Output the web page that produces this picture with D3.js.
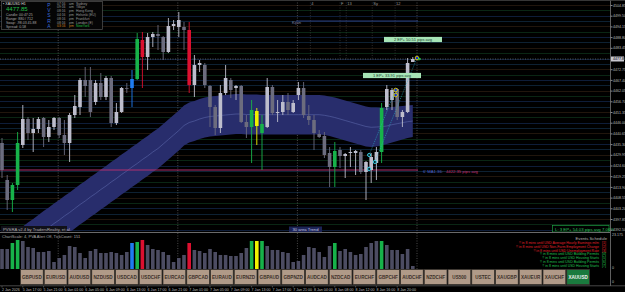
<!DOCTYPE html>
<html>
<head>
<meta charset="utf-8">
<script src="https://cdn.jsdelivr.net/npm/d3@7"></script>
<style>
  body { margin: 0; background: #000; overflow: hidden; }
  svg { display: block; font-family: "Liberation Sans", Arial, sans-serif; }
</style>
</head>
<body>
<svg id="chart" width="625" height="292"></svg>
<script>
// ---- data (XAUUSD H1) ----
var open  = [4435.85,4417.35,4407.35,4414.85,4434.85,4447.85,4440.85,4442.85,4448.35,4438.85,4443.85,4448.35,4439.85,4435.85,4449.85,4453.85,4467.35,4467.35,4456.35,4465.85,
             4458.85,4468.35,4445.85,4451.35,4463.35,4463.35,4467.85,4487.35,4478.85,4488.85,4490.35,4488.85,4481.35,4494.35,4493.85,4493.85,4492.35,4464.85,4474.85,4474.85,
             4464.35,4453.85,4443.35,4460.85,4467.35,4463.35,4464.35,4446.35,4443.85,4451.85,4440.85,4443.85,4463.85,4450.85,4451.35,4456.35,4451.35,4459.85,4463.35,4449.35,
             4447.35,4440.35,4439.35,4430.85,4423.85,4432.35,4429.35,4430.85,4430.85,4431.35,4421.35,4422.35,4425.85,4431.35,4453.85,4457.35,4462.85,4448.85,4451.35,4476.35]
var high  = [4438.35,4419.85,4415.85,4441.35,4454.85,4448.85,4448.35,4448.85,4448.85,4447.35,4448.85,4448.85,4447.35,4450.85,4459.85,4468.35,4473.85,4473.85,4467.35,4470.85,
             4469.35,4469.35,4455.85,4463.85,4465.85,4472.35,4490.85,4491.35,4490.85,4491.35,4494.85,4489.35,4498.35,4497.35,4501.35,4496.35,4496.35,4479.85,4477.35,4475.85,
             4464.85,4454.85,4464.85,4474.85,4468.35,4464.85,4464.85,4449.85,4457.35,4453.35,4449.85,4468.35,4464.85,4457.35,4459.85,4460.85,4457.35,4466.35,4466.35,4454.85,
             4449.85,4442.35,4441.35,4433.85,4436.35,4433.85,4430.85,4433.85,4432.35,4432.35,4426.85,4430.85,4433.85,4455.85,4464.85,4463.35,4463.35,4452.35,4478.35,4478.85]
var low   = [4418.35,4402.35,4401.35,4412.35,4433.35,4437.35,4431.35,4440.85,4433.85,4436.35,4442.35,4438.35,4429.85,4426.35,4448.35,4449.85,4458.85,4448.85,4454.85,4457.35,
             4457.35,4443.85,4444.85,4450.85,4460.85,4453.85,4467.35,4463.35,4472.35,4483.85,4482.35,4477.35,4480.85,4492.35,4488.85,4482.35,4460.85,4458.85,4471.35,4463.35,
             4443.85,4439.85,4440.85,4459.85,4458.35,4457.35,4445.85,4438.35,4425.85,4434.85,4422.35,4443.35,4449.85,4446.35,4449.85,4449.85,4450.85,4457.35,4448.35,4444.85,
             4432.35,4438.35,4428.35,4413.85,4413.85,4423.35,4418.35,4423.85,4419.85,4420.35,4407.35,4415.85,4417.35,4425.85,4452.35,4452.35,4447.35,4443.85,4450.85,4476.35]
var close = [4422.35,4407.35,4414.85,4435.85,4447.85,4440.85,4442.85,4447.85,4438.85,4443.85,4448.35,4439.85,4435.85,4449.85,4454.35,4467.35,4464.35,4451.35,4465.85,4458.85,
             4468.35,4445.85,4451.35,4463.35,4463.05,4467.85,4487.85,4478.85,4488.85,4490.35,4489.35,4481.35,4494.35,4495.35,4497.35,4492.35,4464.85,4474.85,4475.85,4464.85,
             4453.85,4443.35,4460.85,4468.35,4462.35,4464.35,4446.35,4443.85,4452.35,4444.35,4445.35,4463.85,4450.85,4451.35,4456.35,4452.35,4455.85,4463.35,4449.85,4447.35,
             4440.85,4438.85,4429.85,4423.85,4431.85,4429.35,4430.35,4431.35,4431.85,4421.35,4426.35,4428.85,4431.35,4453.35,4462.85,4462.35,4448.85,4451.35,4475.85,4477.85]
// PVSRA class of each bar: n normal, g green climax, r red climax, b blue, y yellow
var pvsra = ["n","n","g","g","n","n","n","n","n","n","n","n","n","n","n","n","n","n","n","n",
             "n","n","n","n","n","b","g","r","n","n","n","n","n","n","n","n","r","n","n","n",
             "n","n","n","n","n","n","n","n","g","y","g","n","n","n","n","n","n","n","n","n",
             "n","n","n","n","g","n","n","n","n","n","n","n","n","g","n","n","n","n","n","n"]
var tickVolume = [12880,12880,16740,18680,18030,14170,13520,10950,10950,11590,4510,7080,9020,14810,14170,10300,7080,11590,12880,10300,
                  10300,10950,10300,9020,10950,16740,17390,18680,15460,12880,12240,10950,9020,4510,7080,9020,16740,12240,11590,10300,
                  12880,10950,9020,9020,8370,8370,10300,13520,18030,18030,18030,14810,12240,12240,10950,10300,4510,5150,9020,14170,
                  13520,10950,7730,14810,16740,11590,12880,10950,9020,9660,14170,16740,18030,18030,15460,12240,12240,9660,12880,1930]
// moving-average channel
var bandUpper = [4386.85,4388.6,4390.35,4392.35,4394.1,4396.1,4397.85,4399.85,4401.85,4403.6,4405.6,4407.35,4409.35,4411.1,4413.1,4415.1,4416.85,4418.85,4420.6,4422.6,
                 4424.35,4426.35,4428.1,4430.1,4431.85,4433.85,4435.6,4437.6,4439.35,4441.35,4443.1,4445.35,4447.6,4449.85,4452.1,4454.6,4456.1,4456.85,4457.85,4458.6,
                 4459.1,4459.35,4459.6,4459.85,4460.1,4460.35,4460.35,4460.1,4460.1,4460.1,4459.85,4459.85,4459.85,4459.85,4459.85,4459.85,4459.85,4459.85,4459.85,4459.85,
                 4459.85,4459.85,4459.6,4459.1,4458.6,4457.85,4457.1,4456.35,4455.6,4454.85,4454.1,4453.6,4453.6,4453.35,4453.35,4453.85,4454.1,4454.35,4454.6,4454.85]
var bandMid   = [4376.85,4378.6,4380.35,4382.35,4384.1,4386.1,4387.85,4389.85,4391.85,4393.6,4395.6,4397.35,4399.35,4401.1,4403.1,4405.1,4406.85,4408.85,4410.6,4412.6,
                 4414.35,4416.35,4418.1,4420.1,4421.85,4423.85,4425.6,4427.6,4429.35,4431.35,4433.1,4435.35,4437.6,4439.85,4442.1,4444.6,4446.1,4446.85,4447.85,4448.6,
                 4449.1,4449.35,4449.6,4449.85,4450.1,4450.35,4450.35,4450.1,4450.1,4450.1,4450.0,4450.0,4450.0,4450.0,4450.0,4450.0,4450.0,4450.0,4450.0,4450.0,
                 4450.0,4450.0,4449.7,4449.2,4448.6,4447.85,4447.1,4446.35,4445.6,4444.85,4444.1,4443.7,4443.85,4444.0,4444.35,4445.0,4445.5,4446.0,4446.5,4446.85]
var bandLower = [4366.85,4368.6,4370.35,4372.35,4374.1,4376.1,4377.85,4379.85,4381.85,4383.6,4385.6,4387.35,4389.35,4391.1,4393.1,4395.1,4396.85,4398.85,4400.6,4402.6,
                 4404.35,4406.35,4408.1,4410.1,4411.85,4413.85,4415.6,4417.6,4419.35,4421.35,4423.1,4425.35,4427.6,4429.85,4432.1,4434.6,4436.1,4436.85,4437.85,4438.6,
                 4439.1,4439.35,4439.6,4439.85,4440.1,4440.35,4440.35,4440.1,4440.1,4440.1,4440.1,4440.1,4440.1,4440.1,4440.1,4440.1,4440.1,4440.1,4440.1,4440.1,
                 4440.1,4440.1,4439.85,4439.35,4438.6,4437.85,4437.1,4436.35,4435.6,4434.85,4434.1,4433.85,4434.1,4434.6,4435.35,4436.1,4436.85,4437.6,4438.35,4438.85]

var priceTicks = ["4504.85","4499.50","4494.15","4488.80","4483.45","4478.10","4472.75","4467.40","4462.05","4456.70","4451.35",
                  "4446.00","4440.65","4435.30","4429.95","4424.60","4419.25","4413.90","4408.55","4403.20","4397.85","4392.50"]
var timeTicks = [0,4,8,12,16,20,24,28,32,36,40,44,48,52,56,60,64,68,72,76]
var timeLabels = ["2 Jan 2026","5 Jan 17:00","5 Jan 21:00","6 Jan 01:00","6 Jan 05:00","6 Jan 09:00","6 Jan 13:00","6 Jan 17:00","6 Jan 21:00","7 Jan 01:00",
                  "7 Jan 05:00","7 Jan 09:00","7 Jan 13:00","7 Jan 17:00","7 Jan 21:00","8 Jan 04:00","8 Jan 08:00","8 Jan 12:00","8 Jan 16:00","8 Jan 20:00"]
var daySeparators = [11, 34, 57, 80]
var sessionMarks = [[59.3,"4"],[65,"F"],[66.2,"13"],[71.2,"Sy"],[75.6,"12"]]
var symbols = ["GBPUSD","EURUSD","AUDUSD","NZDUSD","USDCAD","USDCHF","EURCAD","GBPCAD","EURAUD","EURNZD","GBPAUD","GBPNZD",
               "AUDCAD","NZDCAD","EURCHF","GBPCHF","AUDCHF","NZDCHF","US500","USTEC","XAUGBP","XAUEUR","XAUCHF","XAUUSD"]
var activeSymbol = "XAUUSD"
var bidPrice = 4477.85
var maLevel = 4422.35
var kijunLevel = 4496.85
var entries = [[70.6,4429.85],[70.6,4422.85],[71.7,4426.35]]   // cyan rings
var exits = [[75.7,4462.35],[75.7,4459.85],[79.8,4478.35]]      // yellow/blue dots
var epLabels = [[4487.6,"2 EP+ 50.51 pips avg",384,442],[4469.6,"1 EP+ 33.91 pips avg",363,421]]
var events = [["!! in 8 mins until USD Average Hourly Earnings m/m","[1]","#e0202a"],
              ["!! in 8 mins until USD Non-Farm Employment Change","[2]","#e0202a"],
              ["!! in 8 mins until USD Unemployment Rate","[3]","#e0202a"],
              ["!! in 8 mins until USD Building Permits","[4]","#22c050"],
              ["!! in 8 mins until USD Housing Starts","[5]","#22c050"],
              ["!! in 8 mins until USD Building Permits","[6]","#22c050"],
              ["!! in 8 mins until USD Housing Starts","[7]","#22c050"]]
var sessions = [["07:16","am","Sydney"],["09:16","am","Tokyo"],["08:16","pm","Hong Kong"],["04:16","pm","Helsinki (EU)"],
                ["08:16","pm","Frankfurt"],["08:16","pm","London (E)"],["03:16","pm","NewYork"]]

// ---- layout ----
var MAIN = {LEFT: 0, RIGHT: 610, TOP: 1, BOTTOM: 231}
var SUB = {TOP: 233, BOTTOM: 269}
var COLORS = {n_up: "#bdbdcc", n_dn: "#6c6c7e", g: "#17b24a", r: "#dc1030", b: "#1f7cf0", y: "#f2f200"}

var svg = d3.select("#chart")
svg.append("rect").attr("width", 625).attr("height", 292).attr("fill", "#000")

var x = d3.scaleLinear().domain([0, 79]).range([2, 412.8])
var y = d3.scaleLinear().domain([4392.85, 4507.35]).range([229, 0])
var yv = d3.scaleLinear().domain([0, 23175]).range([SUB.BOTTOM, SUB.TOP])

svg.append("clipPath").attr("id", "mainclip")
  .append("rect").attr("x", 0).attr("y", MAIN.TOP).attr("width", MAIN.RIGHT).attr("height", MAIN.BOTTOM - MAIN.TOP)

var main = svg.append("g").attr("clip-path", "url(#mainclip)")

// faint coloured level lines
var levelColors = ["#122448", "#0c3019", "#2a1c10", "#102a40"]
var levels = d3.range(4392.5, 4507, 2.675)
main.selectAll(".lvl").data(levels).enter().append("line")
  .attr("x1", 0).attr("x2", MAIN.RIGHT)
  .attr("y1", d => Math.round(y(d)) + 0.5).attr("y2", d => Math.round(y(d)) + 0.5)
  .attr("stroke", (d, i) => levelColors[i % 4]).attr("stroke-width", 0.8)

// day separators
main.selectAll(".sep").data(daySeparators).enter().append("line")
  .attr("x1", d => x(d) - 1).attr("x2", d => x(d) - 1)
  .attr("y1", 0).attr("y2", MAIN.BOTTOM)
  .attr("stroke", "#7a7a7a").attr("stroke-width", 0.6).attr("stroke-dasharray", "1,1.5")

// session markers at the top
main.selectAll(".sess").data(sessionMarks).enter().append("line")
  .attr("x1", d => x(d[0])).attr("x2", d => x(d[0]))
  .attr("y1", 0).attr("y2", 60)
  .attr("stroke", "#555").attr("stroke-width", 0.5).attr("stroke-dasharray", "1,1.5")
main.selectAll(".sesst").data(sessionMarks).enter().append("text")
  .attr("x", d => x(d[0]) + 1).attr("y", 5)
  .attr("fill", "#999").attr("font-size", 4).text(d => d[1])

// MA channel
var area = d3.area().x((d, i) => x(i)).y0((d, i) => y(bandLower[i])).y1(d => y(d))
main.append("path").datum(bandUpper).attr("d", area).attr("fill", "#282d6c")
main.append("path").datum(bandMid)
  .attr("d", d3.line().x((d, i) => x(i)).y(d => y(d)))
  .attr("fill", "none").attr("stroke", "#5b66aa").attr("stroke-width", 0.6)

// kijun style level and bid line
main.append("line").attr("x1", 296).attr("x2", x(80))
  .attr("y1", y(kijunLevel)).attr("y2", y(kijunLevel))
  .attr("stroke", "#2a3a78").attr("stroke-width", 1)
main.append("text").attr("x", 292).attr("y", y(kijunLevel) + 2.5)
  .attr("fill", "#8888aa").attr("font-size", 4).text("Kijun")
main.append("line").attr("x1", 0).attr("x2", MAIN.RIGHT)
  .attr("y1", y(bidPrice)).attr("y2", y(bidPrice))
  .attr("stroke", "#8a8a8a").attr("stroke-width", 0.6).attr("stroke-dasharray", "1,1.5")
main.append("line").attr("x1", 0).attr("x2", x(80))
  .attr("y1", y(maLevel)).attr("y2", y(maLevel))
  .attr("stroke", "#b0306e").attr("stroke-width", 1)

// candles
function candleColor(i) {
  if (pvsra[i] != "n") return COLORS[pvsra[i]]
  return close[i] >= open[i] ? COLORS.n_up : COLORS.n_dn
}
var bars = d3.range(open.length)
main.selectAll(".wick").data(bars).enter().append("line")
  .attr("x1", i => x(i)).attr("x2", i => x(i))
  .attr("y1", i => y(high[i])).attr("y2", i => y(low[i]))
  .attr("stroke", candleColor).attr("stroke-width", 0.9)
main.selectAll(".body").data(bars).enter().append("rect")
  .attr("x", i => x(i) - 1.8).attr("width", 3.6)
  .attr("y", i => y(Math.max(open[i], close[i])))
  .attr("height", i => Math.max(0.8, Math.abs(y(open[i]) - y(close[i]))))
  .attr("fill", candleColor)

// trade lines and markers
main.selectAll(".tl").data([[entries[0], exits[0]], [entries[2], exits[2]]]).enter().append("line")
  .attr("x1", d => x(d[0][0])).attr("y1", d => y(d[0][1]))
  .attr("x2", d => x(d[1][0])).attr("y2", d => y(d[1][1]))
  .attr("stroke", "#2ab0c8").attr("stroke-width", 0.6).attr("stroke-dasharray", "1,1")
main.selectAll(".ent").data(entries).enter().append("circle")
  .attr("cx", d => x(d[0])).attr("cy", d => y(d[1])).attr("r", 1.6)
  .attr("fill", "#0a2a30").attr("stroke", "#3ad8ee").attr("stroke-width", 0.9)
main.selectAll(".ext").data(exits).enter().append("circle")
  .attr("cx", d => x(d[0])).attr("cy", d => y(d[1])).attr("r", 1.8)
  .attr("fill", "#1030e0").attr("stroke", "#e8d800").attr("stroke-width", 0.9)
main.append("path").attr("d", d3.symbol(d3.symbolTriangle, 5)())
  .attr("transform", `translate(${x(80.3)},${y(bidPrice)}) rotate(90)`).attr("fill", "#20c040")

// EP labels
var ep = main.selectAll(".ep").data(epLabels).enter().append("g")
ep.append("rect").attr("x", d => d[2]).attr("width", d => d[3] - d[2])
  .attr("y", d => y(d[0]) - 2.6).attr("height", 5.2).attr("fill", "#a6e4b6")
ep.append("text").attr("x", d => (d[2] + d[3]) / 2).attr("y", d => y(d[0]) + 1.5)
  .attr("text-anchor", "middle").attr("font-size", 4).attr("fill", "#204030").text(d => d[1])

main.append("text").attr("x", 423).attr("y", y(maLevel) + 2.8).attr("font-size", 4.2)
  .attr("fill", "#5060c8").text("6' MA1.36:")
main.append("text").attr("x", 446).attr("y", y(maLevel) + 2.8).attr("font-size", 4.2)
  .attr("fill", "#c83070").text("4422.35 pips avg")

// bottom labels of the main window
svg.append("rect").attr("x", 1).attr("y", 226).attr("width", 66).attr("height", 6).attr("fill", "#101018")
svg.append("text").attr("x", 3).attr("y", 230.8).attr("font-size", 4.2).attr("fill", "#b0b0b0")
  .text("PVSRA  v2.4 by TradersReality, et al.")
svg.append("rect").attr("x", 289).attr("y", 226.5).attr("width", 33).attr("height", 5.5).attr("fill", "#1c2356")
svg.append("text").attr("x", 305.5).attr("y", 230.8).attr("text-anchor", "middle").attr("font-size", 4.2)
  .attr("fill", "#c0c4e0").text("30 area Trend")
svg.append("rect").attr("x", 552.5).attr("y", 225.5).attr("width", 56.5).attr("height", 6.5)
  .attr("fill", "#000").attr("stroke", "#1c9a40").attr("stroke-width", 0.7)
svg.append("text").attr("x", 555).attr("y", 230.5).attr("font-size", 4.3).attr("fill", "#30c860")
  .text("L: 3 EP+ 54.03 pips avg  7.06%")

// ---- info box (top left) ----
var info = svg.append("g")
info.append("rect").attr("x", 1.5).attr("y", 1.5).attr("width", 101).attr("height", 28)
  .attr("fill", "#050505").attr("stroke", "#555").attr("stroke-width", 0.7)
info.append("text").attr("x", 3).attr("y", 4.6).attr("font-size", 3.6).attr("fill", "#ddd").text("▪ XAUUSD  H1")
info.append("text").attr("x", 6).attr("y", 10.5).attr("font-size", 6).attr("fill", "#22c04a").text("4477.85")
var infoRows = ["Candle: 00:47:25", "Range: 880 / 712", "Swap: -98.03  45.88", "Spread: 0.58"]
info.selectAll(".ir").data(infoRows).enter().append("text")
  .attr("x", 6).attr("y", (d, i) => 16 + i * 3.9).attr("font-size", 3.5).attr("fill", "#aaa").text(d => d)
info.selectAll(".pv").data(["P", "V", "S", "R", "A"]).enter().append("text")
  .attr("x", 49).attr("y", (d, i) => 7 + i * 5.2).attr("text-anchor", "middle")
  .attr("font-size", 5).attr("fill", "#3a6ad8").text(d => d)
var sessRow = info.selectAll(".sr").data(sessions).enter().append("g")
  .attr("transform", (d, i) => `translate(0,${4.6 + i * 3.8})`)
sessRow.append("text").attr("x", 57).attr("font-size", 3.4)
  .attr("fill", (d, i) => i == 6 ? "#d08020" : "#999").text(d => d[0])
sessRow.append("text").attr("x", 69).attr("font-size", 3.4)
  .attr("fill", (d, i) => i == 6 ? "#d08020" : "#999").text(d => d[1])
sessRow.append("text").attr("x", 76).attr("font-size", 3.4)
  .attr("fill", (d, i) => i == 6 ? "#20c040" : "#999").text(d => d[2])

// ---- volume sub-window ----
svg.append("line").attr("x1", 0).attr("x2", MAIN.RIGHT).attr("y1", 232.5).attr("y2", 232.5)
  .attr("stroke", "#6a6a6a").attr("stroke-width", 1.2)
svg.append("text").attr("x", 2).attr("y", 237.5).attr("font-size", 4).attr("fill", "#aaa")
  .text("ChartScale: 4, PVA Alert Off, TickCount: 151")
svg.selectAll(".sepsub").data(daySeparators).enter().append("line")
  .attr("x1", d => x(d) - 1).attr("x2", d => x(d) - 1)
  .attr("y1", SUB.TOP).attr("y2", SUB.BOTTOM)
  .attr("stroke", "#7a7a7a").attr("stroke-width", 0.6).attr("stroke-dasharray", "1,1.5")
function volColor(i) {
  return pvsra[i] == "n" ? "#4c4c62" : COLORS[pvsra[i]]
}
svg.selectAll(".vol").data(bars).enter().append("rect")
  .attr("x", i => x(i) - 1.8).attr("width", 3.6)
  .attr("y", i => yv(tickVolume[i])).attr("height", i => SUB.BOTTOM - yv(tickVolume[i]))
  .attr("fill", volColor)

svg.append("text").attr("x", 607).attr("y", 240).attr("text-anchor", "end").attr("font-size", 4.2)
  .attr("fill", "#bbb").text("Events Schedule")
var ev = svg.selectAll(".ev").data(events).enter().append("g")
  .attr("transform", (d, i) => `translate(0,${244 + i * 3.75})`)
ev.append("text").attr("x", 599).attr("text-anchor", "end").attr("font-size", 3.5)
  .attr("fill", d => d[2]).text(d => d[0])
ev.append("text").attr("x", 602).attr("font-size", 3.5).attr("fill", d => d[2]).text(d => d[1])

// ---- symbol buttons ----
var bx = d3.scaleBand().domain(symbols).range([20, 20 + 23.75 * symbols.length])
svg.append("rect").attr("x", 0).attr("y", 269).attr("width", 20).attr("height", 16).attr("fill", "#000")
var btn = svg.selectAll(".btn").data(symbols).enter().append("g")
btn.append("rect").attr("x", d => bx(d) + 0.5).attr("y", 269.5)
  .attr("width", bx.bandwidth() - 1).attr("height", 15)
  .attr("fill", d => d == activeSymbol ? "#1a7a3e" : "#b09a88")
  .attr("stroke", "#3a3530").attr("stroke-width", 0.8)
btn.append("text").attr("x", d => bx(d) + bx.bandwidth() / 2).attr("y", 279)
  .attr("text-anchor", "middle").attr("font-size", 4.6).attr("font-weight", "bold")
  .attr("fill", d => d == activeSymbol ? "#f0f0f0" : "#3c3028").text(d => d)

// ---- right price axis ----
svg.append("line").attr("x1", MAIN.RIGHT + 0.5).attr("x2", MAIN.RIGHT + 0.5).attr("y1", 0).attr("y2", 286)
  .attr("stroke", "#777").attr("stroke-width", 0.8)
svg.append("line").attr("x1", 0).attr("x2", 625).attr("y1", 0.5).attr("y2", 0.5)
  .attr("stroke", "#444").attr("stroke-width", 0.8)
var axis = svg.append("g").attr("transform", `translate(${MAIN.RIGHT + 0.5},0)`)
  .call(d3.axisRight(y).tickValues(priceTicks.map(Number)).tickSize(2)
    .tickFormat((d, i) => priceTicks[i]))
axis.select(".domain").remove()
axis.selectAll(".tick line").attr("stroke", "#888")
axis.selectAll(".tick text").attr("x", 2.5).attr("fill", "#bbb").attr("font-size", 3.6)
  .attr("font-family", "Liberation Sans, Arial, sans-serif")
// current price tag
svg.append("rect").attr("x", 611).attr("y", y(bidPrice) - 2.5).attr("width", 13).attr("height", 5).attr("fill", "#c8c8d0")
svg.append("text").attr("x", 613).attr("y", y(bidPrice) + 1.3).attr("font-size", 3.6).attr("fill", "#000").text(bidPrice.toFixed(2))
// sub-window scale
svg.append("text").attr("x", 612).attr("y", 235.5).attr("font-size", 3.6).attr("fill", "#bbb").text("23.175")
svg.append("text").attr("x", 612).attr("y", 268.5).attr("font-size", 3.6).attr("fill", "#bbb").text("0")
svg.append("text").attr("x", 612).attr("y", 283).attr("font-size", 3.6).attr("fill", "#bbb").text("0")

// ---- time axis ----
svg.append("line").attr("x1", 0).attr("x2", 625).attr("y1", 285.8).attr("y2", 285.8)
  .attr("stroke", "#666").attr("stroke-width", 0.7)
var tx = svg.selectAll(".tt").data(timeTicks).enter().append("g")
tx.append("line").attr("x1", d => x(d)).attr("x2", d => x(d)).attr("y1", 286).attr("y2", 287.5)
  .attr("stroke", "#888").attr("stroke-width", 0.5)
tx.append("text").attr("x", d => x(d)).attr("y", 290.5).attr("font-size", 3.6).attr("fill", "#bbb")
  .text((d, i) => timeLabels[i])
</script>
</body>
</html>
